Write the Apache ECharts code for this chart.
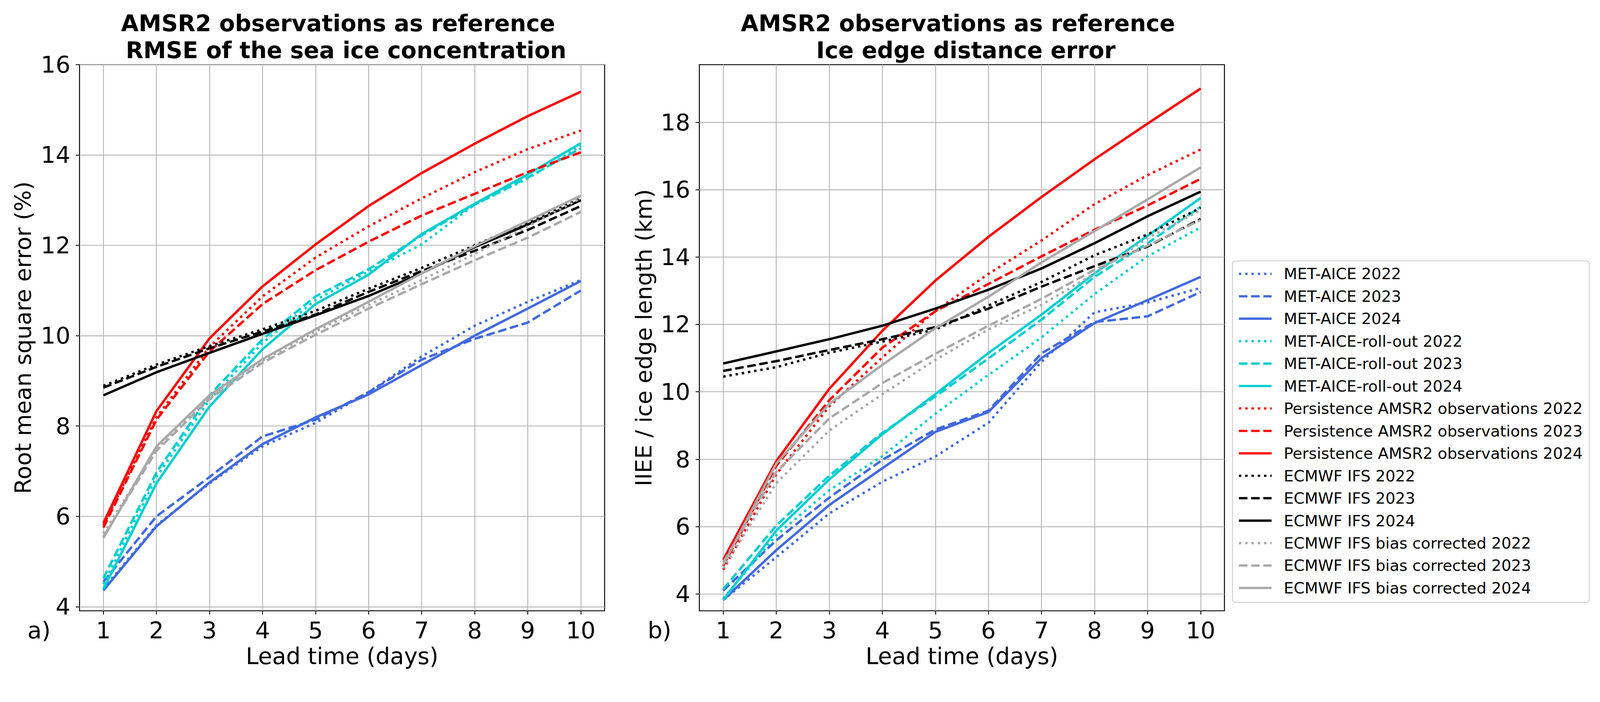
<!DOCTYPE html>
<html>
<head>
<meta charset="utf-8">
<script src="https://cdn.jsdelivr.net/npm/echarts@6/dist/echarts.min.js"></script>
<style>
html,body{margin:0;padding:0;background:#fff;overflow:hidden;width:100%;height:100%;}
#chart{width:4205px;height:1798px;transform-origin:0 0;position:absolute;left:0;top:0;}
</style>
</head>
<body>
<div id="chart"></div>
<script>
// ---------- data ----------
const leadTime = [1, 2, 3, 4, 5, 6, 7, 8, 9, 10];
const xTicks = [1, 2, 3, 4, 5, 6, 7, 8, 9, 10];
const yTicksRmse = [4, 6, 8, 10, 12, 14, 16];
const yTicksIiee = [4, 6, 8, 10, 12, 14, 16, 18];

const seriesNames = [
  'MET-AICE 2022', 'MET-AICE 2023', 'MET-AICE 2024',
  'MET-AICE-roll-out 2022', 'MET-AICE-roll-out 2023', 'MET-AICE-roll-out 2024',
  'Persistence AMSR2 observations 2022', 'Persistence AMSR2 observations 2023', 'Persistence AMSR2 observations 2024',
  'ECMWF IFS 2022', 'ECMWF IFS 2023', 'ECMWF IFS 2024',
  'ECMWF IFS bias corrected 2022', 'ECMWF IFS bias corrected 2023', 'ECMWF IFS bias corrected 2024'
];

// (a) RMSE of the sea ice concentration (%)
const rmseMetAice2022 = [4.40, 5.80, 6.73, 7.55, 8.07, 8.75, 9.54, 10.22, 10.75, 11.23];
const rmseMetAice2023 = [4.55, 6.00, 6.87, 7.77, 8.14, 8.75, 9.47, 9.93, 10.29, 11.00];
const rmseMetAice2024 = [4.36, 5.78, 6.75, 7.60, 8.19, 8.70, 9.35, 10.00, 10.60, 11.21];
const rmseRollout2022 = [4.50, 6.87, 8.58, 9.84, 10.79, 11.42, 12.02, 12.90, 13.48, 14.20];
const rmseRollout2023 = [4.63, 6.97, 8.68, 9.92, 10.87, 11.47, 12.22, 12.90, 13.50, 14.15];
const rmseRollout2024 = [4.39, 6.73, 8.43, 9.70, 10.70, 11.35, 12.25, 12.92, 13.57, 14.26];
const rmsePers2022 = [5.80, 8.19, 9.75, 10.87, 11.73, 12.42, 13.04, 13.62, 14.13, 14.54];
const rmsePers2023 = [5.75, 8.14, 9.65, 10.70, 11.45, 12.08, 12.66, 13.14, 13.62, 14.06];
const rmsePers2024 = [5.85, 8.33, 9.94, 11.09, 12.02, 12.87, 13.60, 14.25, 14.86, 15.40];
const rmseIfs2022 = [8.89, 9.36, 9.77, 10.14, 10.55, 11.04, 11.50, 12.00, 12.51, 13.04];
const rmseIfs2023 = [8.85, 9.31, 9.72, 10.09, 10.47, 10.97, 11.43, 11.88, 12.34, 12.87];
const rmseIfs2024 = [8.68, 9.19, 9.62, 10.04, 10.45, 10.88, 11.38, 11.96, 12.46, 13.00];
const rmseBc2022 = [5.62, 7.50, 8.63, 9.45, 10.09, 10.68, 11.23, 11.81, 12.42, 13.04];
const rmseBc2023 = [5.55, 7.45, 8.60, 9.40, 10.02, 10.60, 11.14, 11.67, 12.17, 12.74];
const rmseBc2024 = [5.52, 7.55, 8.68, 9.48, 10.14, 10.75, 11.38, 11.98, 12.54, 13.10];

// (b) IIEE / ice edge length (km)
const iieeMetAice2022 = [3.82, 5.09, 6.39, 7.33, 8.08, 9.08, 10.89, 12.36, 12.65, 13.08];
const iieeMetAice2023 = [4.10, 5.59, 6.86, 7.98, 8.88, 9.44, 11.14, 12.07, 12.24, 12.96];
const iieeMetAice2024 = [3.82, 5.30, 6.64, 7.73, 8.81, 9.40, 11.00, 12.04, 12.72, 13.41];
const iieeRollout2022 = [3.86, 5.74, 7.08, 8.09, 9.35, 10.50, 11.61, 12.90, 14.02, 14.88];
const iieeRollout2023 = [4.14, 6.03, 7.51, 8.78, 9.86, 10.99, 12.14, 13.41, 14.41, 15.49];
const iieeRollout2024 = [3.82, 5.88, 7.40, 8.74, 9.93, 11.15, 12.29, 13.51, 14.63, 15.75];
const iieePers2022 = [4.72, 7.55, 9.57, 11.02, 12.40, 13.50, 14.49, 15.57, 16.43, 17.19];
const iieePers2023 = [4.83, 7.80, 9.75, 11.31, 12.39, 13.20, 14.02, 14.81, 15.53, 16.32];
const iieePers2024 = [5.01, 7.94, 10.09, 11.81, 13.30, 14.60, 15.78, 16.90, 17.96, 19.00];
const iieeIfs2022 = [10.45, 10.73, 11.16, 11.49, 11.85, 12.56, 13.26, 14.05, 14.67, 15.46];
const iieeIfs2023 = [10.62, 10.91, 11.24, 11.56, 11.92, 12.47, 13.12, 13.73, 14.31, 15.13];
const iieeIfs2024 = [10.84, 11.20, 11.56, 11.96, 12.47, 13.03, 13.66, 14.41, 15.21, 15.94];
const iieeBc2022 = [4.76, 7.29, 8.85, 9.93, 10.95, 11.85, 12.58, 13.51, 14.56, 15.39];
const iieeBc2023 = [4.94, 7.62, 9.21, 10.26, 11.13, 11.96, 12.76, 13.62, 14.34, 15.10];
const iieeBc2024 = [4.87, 7.87, 9.64, 10.80, 11.89, 12.82, 13.84, 14.77, 15.71, 16.66];

const rmseData = [rmseMetAice2022, rmseMetAice2023, rmseMetAice2024,
  rmseRollout2022, rmseRollout2023, rmseRollout2024,
  rmsePers2022, rmsePers2023, rmsePers2024,
  rmseIfs2022, rmseIfs2023, rmseIfs2024,
  rmseBc2022, rmseBc2023, rmseBc2024];
const iieeData = [iieeMetAice2022, iieeMetAice2023, iieeMetAice2024,
  iieeRollout2022, iieeRollout2023, iieeRollout2024,
  iieePers2022, iieePers2023, iieePers2024,
  iieeIfs2022, iieeIfs2023, iieeIfs2024,
  iieeBc2022, iieeBc2023, iieeBc2024];

// ---------- styles ----------
const groupColors = ['#4169E1', '#00CED1', '#FF0000', '#000000', '#A9A9A9'];
const LW = 6.3;
const dashStyles = [[6.3, 10.2], [22.5, 9.6], 'solid'];
const FONT = 'DejaVu Sans';

// fit the 4205x1798 design to the real viewport (uniform scale)
const W = 4205, H = 1798;
const el = document.getElementById('chart');
const vw = window.innerWidth || document.documentElement.clientWidth || W;
const s = vw / W;
el.style.transform = 'scale(' + s + ')';

function buildSeries(dataSets, gridIdx) {
  return dataSets.map((vals, i) => ({
    name: seriesNames[i],
    type: 'line',
    xAxisIndex: gridIdx,
    yAxisIndex: gridIdx,
    data: leadTime.map((d, k) => [d, vals[k]]),
    symbol: 'none',
    showSymbol: false,
    lineStyle: { color: groupColors[Math.floor(i / 3)], width: LW, type: dashStyles[i % 3], cap: 'butt' },
    itemStyle: { color: groupColors[Math.floor(i / 3)] },
    emphasis: { disabled: true },
    z: 2
  }));
}

function xAxisDef(gridIndex) {
  return {
    type: 'value', gridIndex, min: 0.55, max: 10.45,
    name: 'Lead time (days)', nameLocation: 'middle', nameGap: 90,
    nameTextStyle: { fontFamily: FONT, fontSize: 60, color: '#000' },
    axisLine: { show: false },
    axisTick: { show: true, length: 10, inside: false, customValues: xTicks, lineStyle: { color: '#000', width: 2.2 } },
    axisLabel: { customValues: xTicks, margin: 21, fontFamily: FONT, fontSize: 61, color: '#000' },
    splitLine: { show: true, lineStyle: { color: '#b0b0b0', width: 2.2 } }
  };
}
function yAxisDef(gridIndex, min, max, ticks, name, gap) {
  return {
    type: 'value', gridIndex, min, max,
    name, nameLocation: 'middle', nameGap: gap, nameRotate: 90,
    nameTextStyle: { fontFamily: FONT, fontSize: 59, color: '#000' },
    axisLine: { show: false },
    axisTick: { show: true, length: 10, inside: false, customValues: ticks, lineStyle: { color: '#000', width: 2.2 } },
    axisLabel: { customValues: ticks, margin: 24, fontFamily: FONT, fontSize: 61, color: '#000' },
    splitLine: { show: true, lineStyle: { color: '#b0b0b0', width: 2.2 } }
  };
}

const chart = echarts.init(el, null, { renderer: 'svg', width: W, height: H });
chart.setOption({
  animation: false,
  backgroundColor: '#ffffff',
  title: [
    { text: 'AMSR2 observations as reference \n RMSE of the sea ice concentration', left: 899, top: 27, textAlign: 'center', padding: 0,
      textStyle: { fontFamily: FONT, fontWeight: 'bold', fontSize: 60, lineHeight: 70, color: '#000' } },
    { text: 'AMSR2 observations as reference \n Ice edge distance error', left: 2528, top: 27, textAlign: 'center', padding: 0,
      textStyle: { fontFamily: FONT, fontWeight: 'bold', fontSize: 60, lineHeight: 70, color: '#000' } }
  ],
  grid: [
    { left: 209, right: W - 1589, top: 170, bottom: H - 1606, show: true, borderColor: '#000', borderWidth: 2.5, backgroundColor: 'transparent' },
    { left: 1838, right: W - 3218, top: 170, bottom: H - 1606, show: true, borderColor: '#000', borderWidth: 2.5, backgroundColor: 'transparent' }
  ],
  xAxis: [xAxisDef(0), xAxisDef(1)],
  yAxis: [
    yAxisDef(0, 3.91, 16, yTicksRmse, 'Root mean square error (%)', 118),
    yAxisDef(1, 3.5, 19.71, yTicksIiee, 'IIEE / ice edge length (km)', 116)
  ],
  legend: {
    data: seriesNames,
    orient: 'vertical',
    left: 3239, top: 686,
    padding: [12, 17, 16, 14],
    itemWidth: 86, itemHeight: 14, itemGap: 15,
    itemStyle: { opacity: 0 },
    lineStyle: { width: 6 },
    backgroundColor: '#ffffff',
    borderColor: '#cccccc', borderWidth: 2.2, borderRadius: 8,
    selectedMode: false,
    textStyle: { fontFamily: FONT, fontSize: 41, lineHeight: 44, color: '#000', padding: [0, 0, 0, 27] }
  },
  graphic: [
    { type: 'text', left: 72, top: 1627, style: { text: 'a)', fontFamily: FONT, fontSize: 61, fill: '#000' } },
    { type: 'text', left: 1702, top: 1627, style: { text: 'b)', fontFamily: FONT, fontSize: 61, fill: '#000' } }
  ],
  series: buildSeries(rmseData, 0).concat(buildSeries(iieeData, 1))
});
</script>
</body>
</html>
